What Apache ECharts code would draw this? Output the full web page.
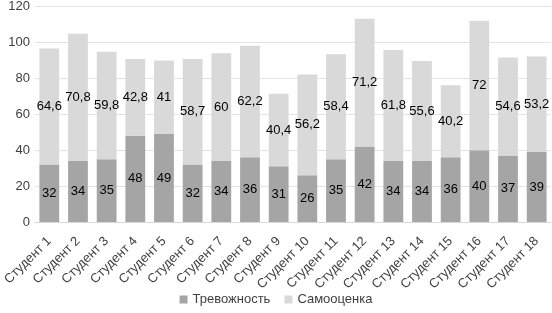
<!DOCTYPE html>
<html><head><meta charset="utf-8">
<script src="https://cdn.jsdelivr.net/npm/echarts@6/dist/echarts.min.js"></script>
<style>html,body{margin:0;padding:0;background:#fff}#c{width:552px;height:313px}</style>
</head><body><div id="c"></div>
<script>
const categories = ['Студент 1','Студент 2','Студент 3','Студент 4','Студент 5','Студент 6','Студент 7','Студент 8','Студент 9','Студент 10','Студент 11','Студент 12','Студент 13','Студент 14','Студент 15','Студент 16','Студент 17','Студент 18'];
const anxiety = [32,34,35,48,49,32,34,36,31,26,35,42,34,34,36,40,37,39];
const selfEsteem = [64.6,70.8,59.8,42.8,41,58.7,60,62.2,40.4,56.2,58.4,71.2,61.8,55.6,40.2,72,54.6,53.2];
const yTicks = [0,20,40,60,80,100,120];

const font = 'Liberation Sans, Arial, sans-serif';
const fmt = p => String(p.value).replace('.', ',');
const chart = echarts.init(document.getElementById('c'));
chart.setOption({
  animation: false,
  textStyle: {fontFamily: font},
  grid: {left: 32, right: 1, top: 5.6, bottom: 91, containLabel: false},
  legend: {
    bottom: 2, left: 'center', itemWidth: 8, itemHeight: 8, itemGap: 14,
    icon: 'rect',
    textStyle: {fontSize: 13, color: '#404040', fontFamily: font},
    data: ['Тревожность','Самооценка']
  },
  xAxis: {
    type: 'category', data: categories,
    axisTick: {show: false},
    axisLine: {lineStyle: {color: '#d9d9d9'}},
    axisLabel: {rotate: 45, fontSize: 13, color: '#404040', interval: 0, margin: 17, fontFamily: font}
  },
  yAxis: {
    type: 'value', min: yTicks[0], max: yTicks[yTicks.length-1], interval: 20,
    axisLine: {show: false}, axisTick: {show: false},
    splitLine: {lineStyle: {color: '#e3e3e3'}},
    axisLabel: {fontSize: 13, color: '#404040', margin: 5, fontFamily: font}
  },
  series: [
    {name: 'Тревожность', type: 'bar', stack: 's', data: anxiety, barWidth: '69%',
     itemStyle: {color: '#a5a5a5'},
     label: {show: true, position: 'inside', color: '#000', fontSize: 13, formatter: fmt, fontFamily: font}},
    {name: 'Самооценка', type: 'bar', stack: 's', data: selfEsteem, barWidth: '69%',
     itemStyle: {color: '#d9d9d9'},
     label: {show: true, position: 'inside', color: '#000', fontSize: 13, formatter: fmt, fontFamily: font}}
  ]
});
</script></body></html>
